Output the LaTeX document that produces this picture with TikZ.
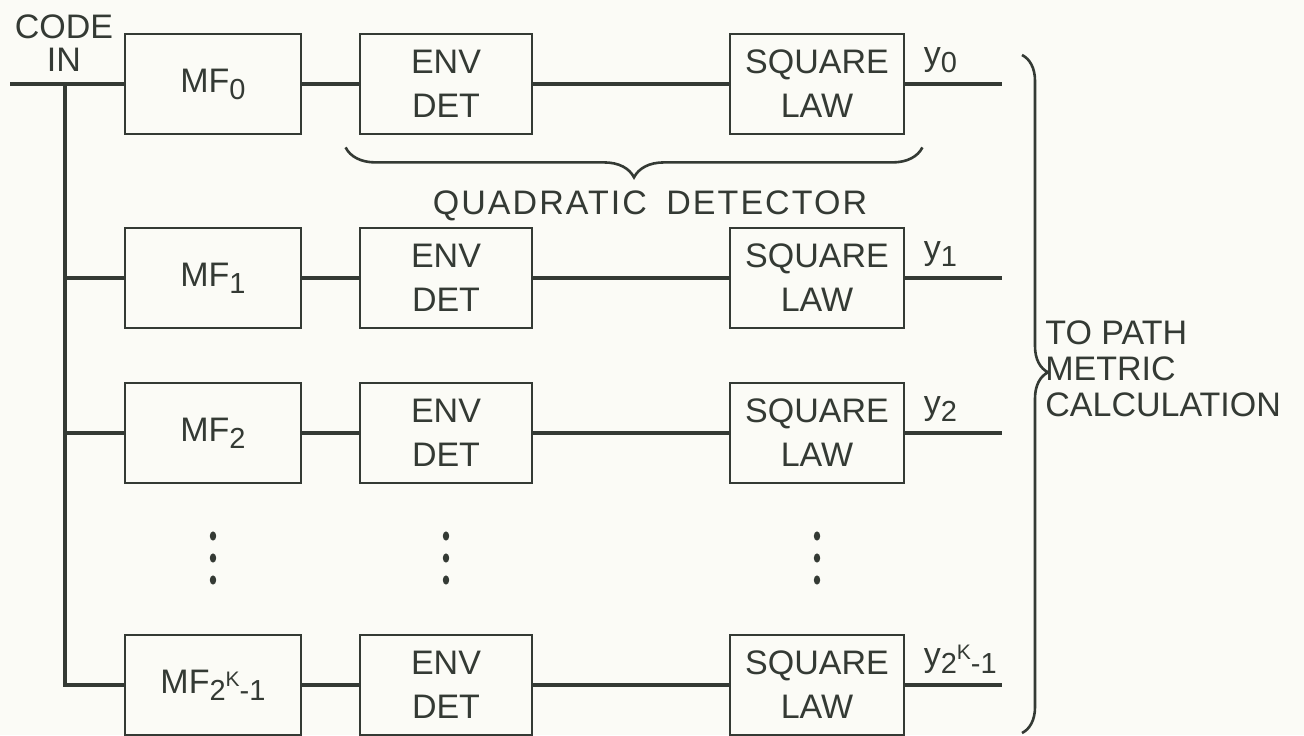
\documentclass[tikz,border=0pt]{standalone}
\usepackage{fontspec}
\setmainfont{Liberation Sans}
\usetikzlibrary{decorations.pathreplacing}
\definecolor{ink}{RGB}{52,58,52}
\definecolor{paper}{RGB}{251,251,246}
\newcommand{\lsub}[1]{\raisebox{-3.5pt}{\fontsize{14.5}{14.5}\selectfont #1}}
\newcommand{\kexp}{\raisebox{7pt}{\fontsize{10.5}{10.5}\selectfont K}}

\begin{document}
\begin{tikzpicture}[x=0.5pt,y=-0.5pt, color=ink,
        blk/.style={draw, line width=1.4pt, minimum height=50pt, inner sep=2pt, align=center, font=\fontsize{17}{22}\selectfont},
        wire/.style={line width=1.9pt},
        lbl/.style={inner sep=1pt, font=\fontsize{17}{18}\selectfont},
        brc/.style={line width=1.3pt, decorate}]
    \fill[paper] (0,0) rectangle (1304,735);
    \useasboundingbox (0,0) rectangle (1304,735);
    % one row per matched filter
    \foreach \r/\y/\s in {0/84/0, 1/278/1, 2/433/2, k/685/{2\kexp-1}} {
        \node[blk, minimum width=88pt] (mf\r) at (213,\y) {MF\lsub{\s}};
        \node[blk, minimum width=86pt] (env\r) at (446,\y) {ENV\\DET};
        \node[blk, minimum width=87pt] (sq\r) at (817,\y) {SQUARE\\LAW};
        \coordinate (out\r) at (1002,\y);
        \draw[wire] (mf\r) -- (env\r) (env\r) -- (sq\r) (sq\r) -- (out\r);
        \node[lbl, anchor=south west] (y\r) at ([shift={(16,-9)}]sq\r.east) {y\lsub{\s}};
    }
    % input bus
    \node[lbl, align=center, font=\fontsize{17}{16.5}\selectfont] (codein) at (64,43) {CODE\\IN};
    \coordinate (cin) at (10,84);
    \coordinate (tap) at (65,84);
    \draw[wire] (cin) -- (mf0);
    \draw[wire] (tap) |- (mfk);
    \draw[wire] (tap |- mf1) -- (mf1);
    \draw[wire] (tap |- mf2) -- (mf2);
    % dots
    \foreach \x in {213,446,817}
        \foreach \y in {536,558,580}
            \fill (\x,\y) ellipse [x radius=1.6pt, y radius=2.3pt];
    % braces
    \draw[brc, decoration={brace, amplitude=15pt}] ([shift={(17,12)}]sq0.south east) -- ([shift={(-13,12)}]env0.south west);
    \node[lbl, font=\fontsize{17}{18}\selectfont\addfontfeatures{LetterSpace=6}] (quad) at (650,206) {QUADRATIC\hspace{4pt} DETECTOR};
    \draw[brc, decoration={brace, amplitude=13pt, aspect=0.468}] (1022,55) -- (1022,733);
    \node[lbl, anchor=west, align=left] (dest) at (1043,369) {TO PATH\\METRIC\\CALCULATION};
\end{tikzpicture}
\end{document}
